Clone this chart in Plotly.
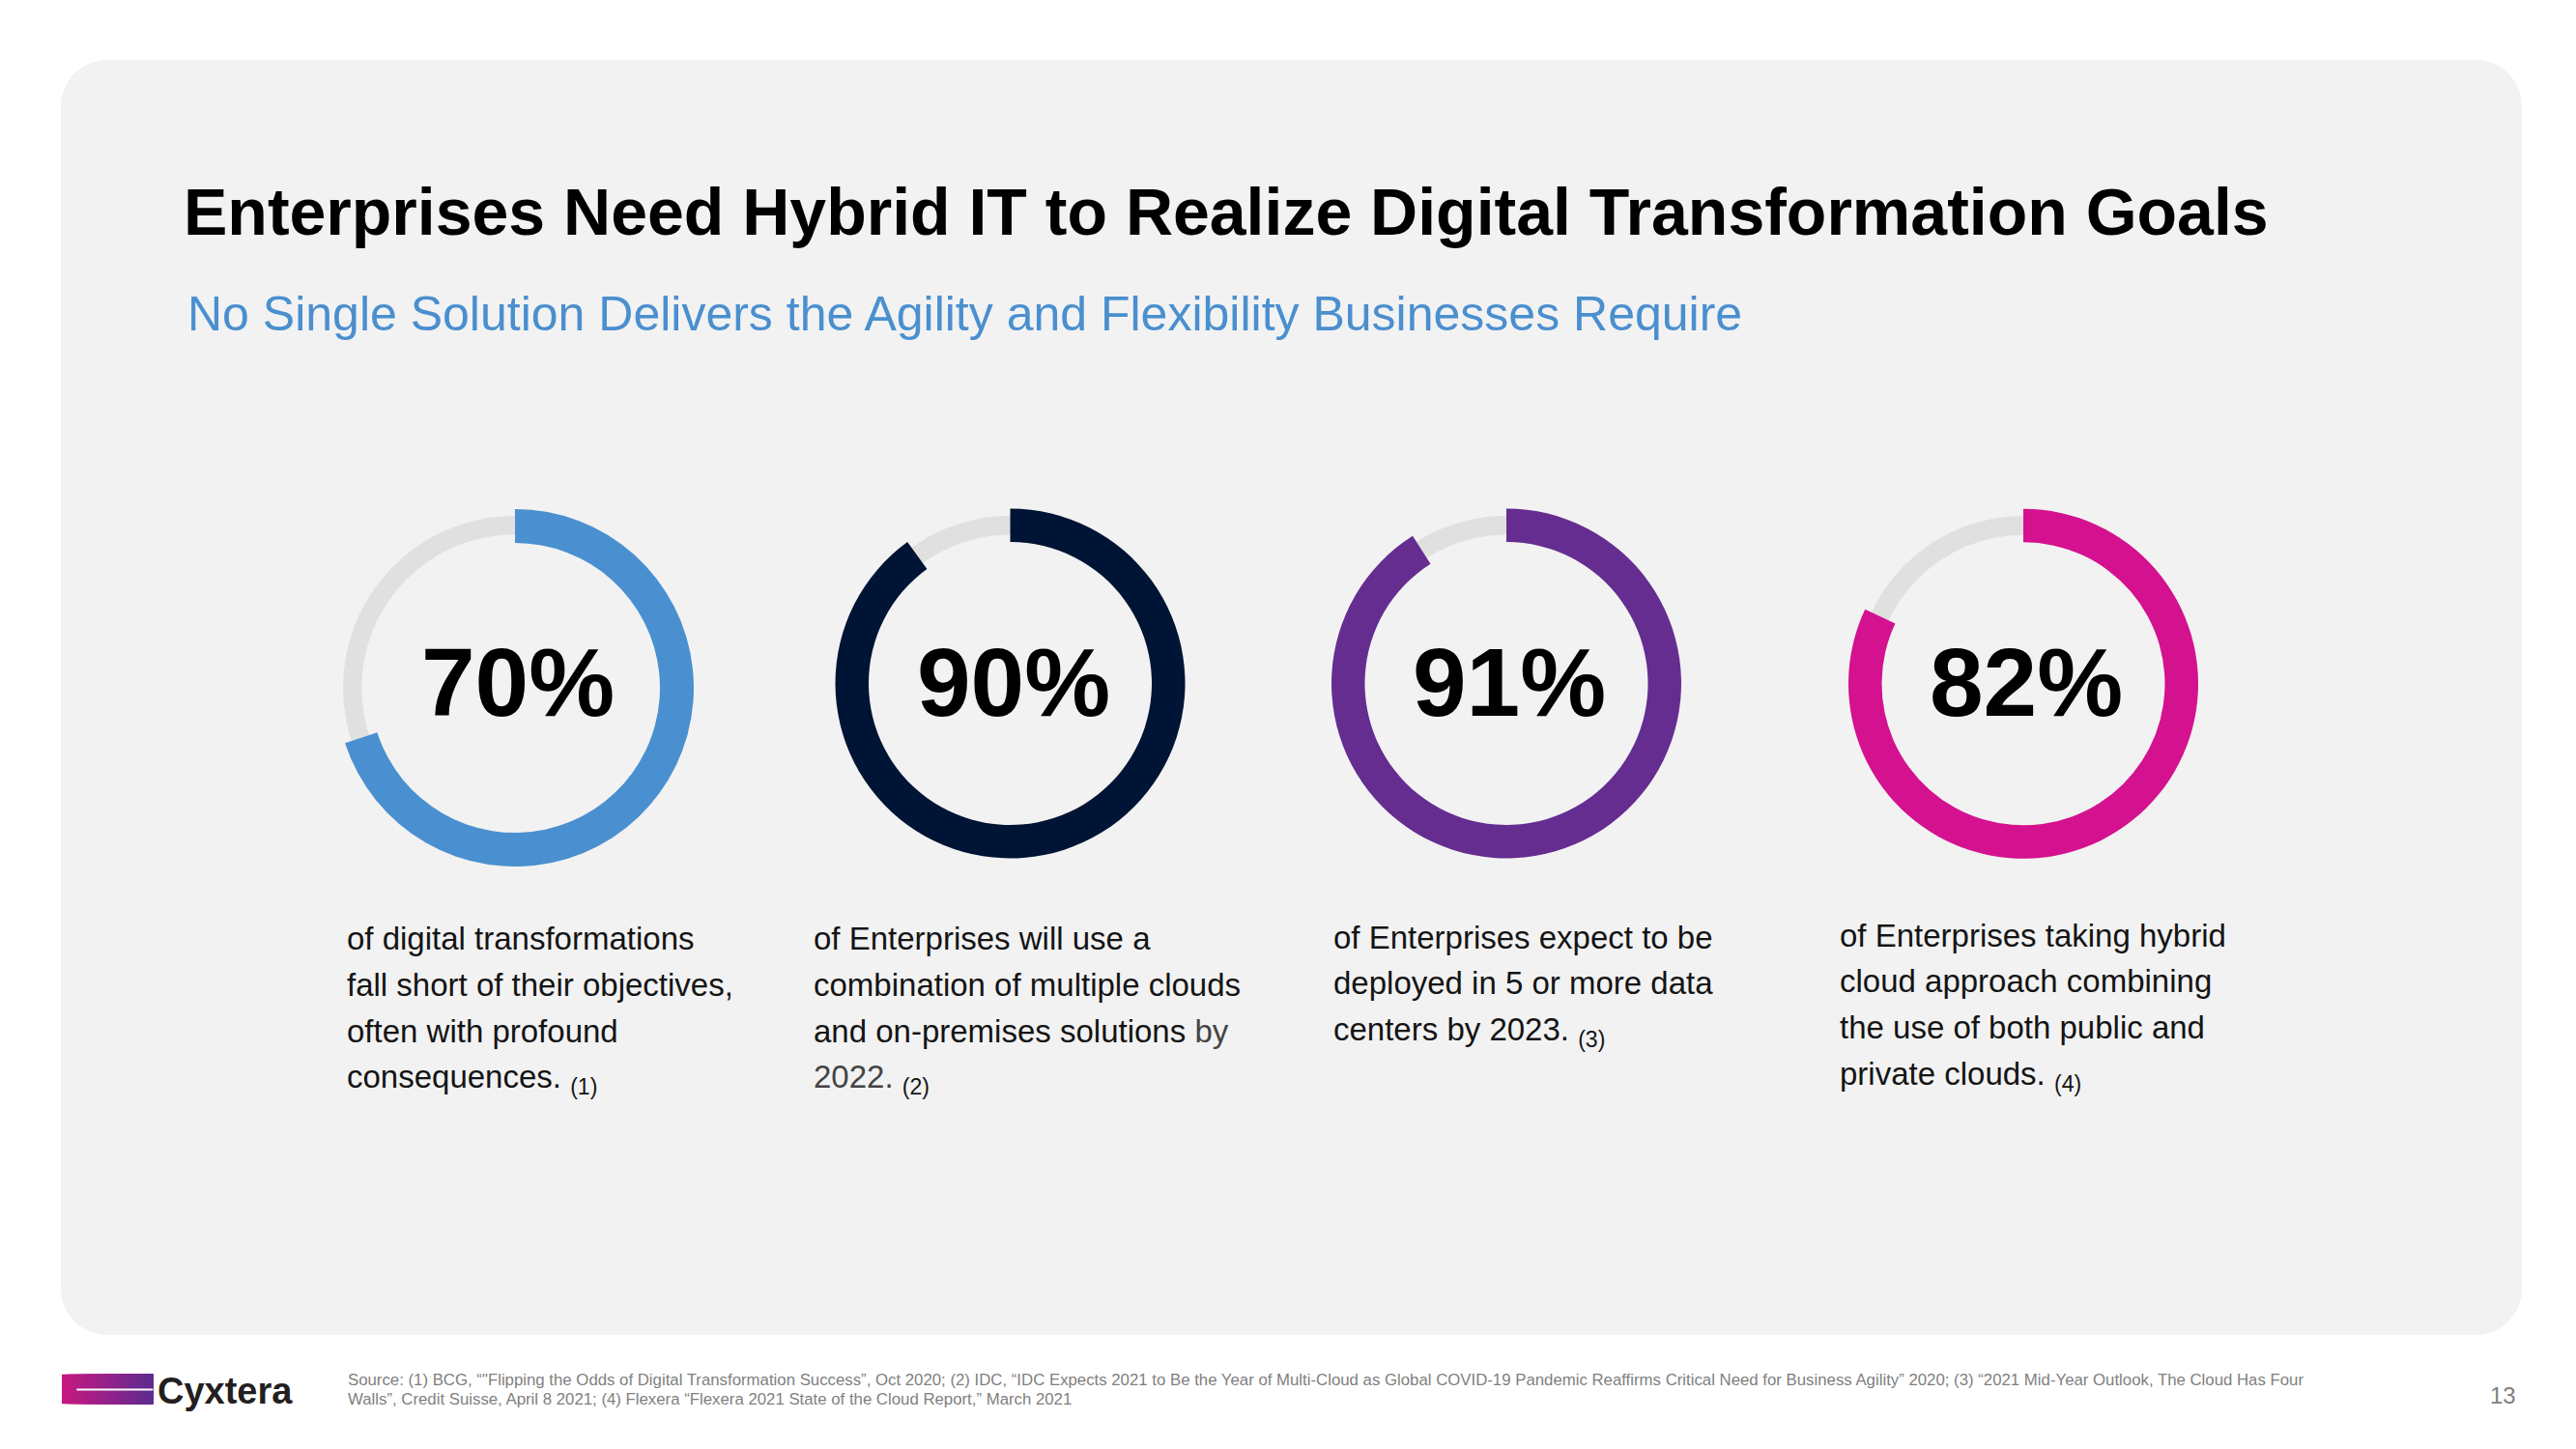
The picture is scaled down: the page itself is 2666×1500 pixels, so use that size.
import plotly.graph_objects as go

# ---------------- data ----------------
pct_values = [70, 90, 91, 82]
ring_colors = ["#4A90D0", "#001435", "#662D91", "#D4118F"]
track_color = "#E0E0E0"

descriptions = [
    ["of digital transformations",
     "fall short of their objectives,",
     "often with profound",
     "consequences."],
    ["of Enterprises will use a",
     "combination of multiple clouds",
     "and on-premises solutions <span style='color:#444444'>by</span>",
     "<span style='color:#444444'>2022.</span>"],
    ["of Enterprises expect to be",
     "deployed in 5 or more data",
     "centers by 2023."],
    ["of Enterprises taking hybrid",
     "cloud approach combining",
     "the use of both public and",
     "private clouds."],
]
footnote_refs = ["(1)", "(2)", "(3)", "(4)"]

title_text = "Enterprises Need Hybrid IT to Realize Digital Transformation Goals"
subtitle_text = "No Single Solution Delivers the Agility and Flexibility Businesses Require"
source_lines = [
    "Source: (1) BCG, \u201c\"Flipping the Odds of Digital Transformation Success\u201d, Oct 2020; (2) IDC, \u201cIDC Expects 2021 to Be the Year of Multi-Cloud as Global COVID-19 Pandemic Reaffirms Critical Need for Business Agility\u201d 2020; (3) \u201c2021 Mid-Year Outlook, The Cloud Has Four",
    "Walls\u201d, Credit Suisse, April 8 2021; (4) Flexera \u201cFlexera 2021 State of the Cloud Report,\u201d March 2021",
]
page_number = "13"
logo_text = "Cyxtera"

# ---------------- layout constants ----------------
W, H = 2666, 1500
FONT = "Liberation Sans, Arial, Helvetica, sans-serif"

centers = [(533, 712), (1045.5, 707.5), (1559, 707.5), (2094, 707.8)]
ring_r = [(185, 150), (181, 146.5), (181, 146.5), (181, 146.5)]
track_r = [(178, 158.7), (173.7, 154), (173.7, 154), (173.7, 154)]
text_cols_x = [359, 842, 1380, 1904]
text_first_baseline = [983, 983, 981.5, 979.5]
line_gap = 47.7
body_size = 33


def px(x):
    return x / W


def py(y):
    return 1 - y / H


def dom(cx, cy, r):
    return dict(x=[px(cx - r), px(cx + r)], y=[py(cy + r), py(cy - r)])


fig = go.Figure()

for i, v in enumerate(pct_values):
    cx, cy = centers[i]
    to, ti = track_r[i]
    fig.add_trace(go.Pie(
        values=[100], labels=[f"track{i}"], hole=ti / to,
        domain=dom(cx, cy, to), sort=False,
        marker=dict(colors=[track_color], line=dict(width=0)),
        textinfo="none", hoverinfo="skip", showlegend=False,
    ))
    ro, ri = ring_r[i]
    fig.add_trace(go.Pie(
        values=[v, 100 - v], labels=[f"v{i}", f"rest{i}"], hole=ri / ro,
        domain=dom(cx, cy, ro), sort=False, direction="clockwise", rotation=0,
        marker=dict(colors=[ring_colors[i], "rgba(0,0,0,0)"], line=dict(width=0)),
        textinfo="none", hoverinfo="skip", showlegend=False,
    ))

annotations = []


def add_text(text, x, baseline, size, color="#000000", bold=False, xanchor="left"):
    annotations.append(dict(
        text=f"<b>{text}</b>" if bold else text,
        x=px(x), y=py(baseline - 0.905 * size),
        xref="paper", yref="paper", xanchor=xanchor, yanchor="top",
        showarrow=False, borderpad=0, borderwidth=0,
        font=dict(family=FONT, size=size, color=color),
    ))


# title and subtitle
add_text(title_text, 190, 243, 68, "#000000", bold=True)
add_text(subtitle_text, 194, 342.7, 50, "#4A8FCF")

# percentages
for i, v in enumerate(pct_values):
    add_text(f"{v}%", centers[i][0] + 3, 740, 100, "#000000", bold=True, xanchor="center")

# descriptions
for i, lines in enumerate(descriptions):
    for j, line in enumerate(lines):
        t = line
        if j == len(lines) - 1:
            t = f"{line} <sub>{footnote_refs[i]}</sub>"
        add_text(t, text_cols_x[i], text_first_baseline[i] + j * line_gap, body_size, "#141414")

# footer
add_text(source_lines[0], 360, 1434, 16.8, "#7F7F7F")
add_text(source_lines[1], 360, 1454.5, 16.8, "#7F7F7F")
add_text(page_number, 2604, 1452.7, 24, "#7F7F7F", xanchor="right")
add_text(logo_text, 163, 1453.3, 38, "#231F20", bold=True)

# ---------------- shapes ----------------
shapes = []
x0, y0, x1, y1, r = 63, 62, 2610, 1382, 48
k = 0.5523 * r
pts = [
    ("M", [(x0 + r, y0)]),
    ("L", [(x1 - r, y0)]),
    ("C", [(x1 - r + k, y0), (x1, y0 + r - k), (x1, y0 + r)]),
    ("L", [(x1, y1 - r)]),
    ("C", [(x1, y1 - r + k), (x1 - r + k, y1), (x1 - r, y1)]),
    ("L", [(x0 + r, y1)]),
    ("C", [(x0 + r - k, y1), (x0, y1 - r + k), (x0, y1 - r)]),
    ("L", [(x0, y0 + r)]),
    ("C", [(x0, y0 + r - k), (x0 + r - k, y0), (x0 + r, y0)]),
]
path = " ".join(cmd + " " + " ".join(f"{px(a):.6f},{py(b):.6f}" for a, b in p) for cmd, p in pts) + " Z"
shapes.append(dict(type="path", path=path, xref="paper", yref="paper",
                   fillcolor="#F2F2F2", line=dict(width=0), layer="below"))

# logo gradient bar (overlapping slices to avoid seams)
lx0, lx1, ly0, ly1 = 64, 158.3, 1422.7, 1453.3
c_left = (200, 24, 128)
c_right = (92, 44, 145)
n = 24
for s in range(n):
    f = (s + 0.5) / n
    col = tuple(int(round(c_left[q] + (c_right[q] - c_left[q]) * f)) for q in range(3))
    xa = lx0 + (lx1 - lx0) * s / n
    shapes.append(dict(type="rect", xref="paper", yref="paper",
                       x0=px(xa), x1=px(lx1), y0=py(ly1), y1=py(ly0),
                       fillcolor=f"rgb{col}", line=dict(width=0), layer="above"))
shapes.append(dict(type="rect", xref="paper", yref="paper",
                   x0=px(79.3), x1=px(lx1), y0=py(1439.5), y1=py(1437.5),
                   fillcolor="#FFFFFF", line=dict(width=0), layer="above"))

fig.update_layout(
    width=W, height=H,
    margin=dict(l=0, r=0, t=0, b=0, pad=0),
    paper_bgcolor="#FFFFFF", plot_bgcolor="#FFFFFF",
    annotations=annotations, shapes=shapes,
    showlegend=False,
)

fig.write_html(
    "out.html",
    config={"displayModeBar": False, "staticPlot": True},
    post_script="document.body.style.margin='0';document.body.style.overflow='hidden';",
)
